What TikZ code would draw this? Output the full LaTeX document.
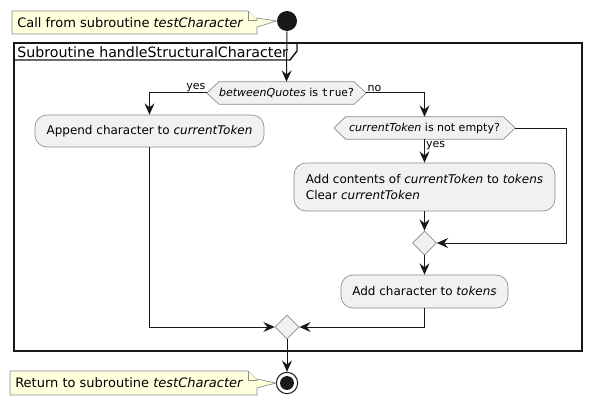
\documentclass[tikz,border=0pt]{standalone}
\usepackage{fontspec}
\setmainfont{DejaVu Sans}
\setmonofont{DejaVu Sans Mono}
\usetikzlibrary{arrows.meta,shapes.geometric,backgrounds}
\definecolor{ln}{HTML}{181818}
\definecolor{bd}{HTML}{8A8A8A}
\definecolor{actfill}{HTML}{F1F1F1}
\definecolor{notefill}{HTML}{FEFFDD}
\begin{document}
\begin{tikzpicture}[x=0.75pt,y=-0.75pt,
  arr/.style={draw=ln, line width=0.75pt, -{Stealth[length=8.5pt,width=7.5pt,inset=3pt]}},
  act/.style={draw=bd, fill=actfill, rounded corners=9pt, line width=0.5pt, inner sep=0pt,
    font=\fontsize{9}{12}\selectfont},
  hexnode/.style={inner sep=0pt, minimum height=16.5pt, font=\fontsize{8.25}{10}\selectfont},
  hexfill/.style={draw=bd, fill=actfill, line width=0.5pt},
  merge/.style={diamond, draw=bd, fill=actfill, line width=0.5pt, minimum size=18pt, inner sep=0pt},
  notebox/.style={draw=bd, fill=notefill, line width=0.5pt},
  notetext/.style={anchor=west, inner sep=0pt, font=\fontsize{9.75}{12}\selectfont},
  lbl/.style={inner sep=1pt, font=\fontsize{8.25}{10}\selectfont},
  frametitle/.style={anchor=west, inner sep=0pt, font=\fontsize{10.65}{12}\selectfont}]
\useasboundingbox (0,0) rectangle (591,406);

% start and end
\node[circle, fill=ln, minimum size=15pt, inner sep=0pt] (start) at (287,21) {};
\node[circle, draw=ln, fill=white, line width=0.75pt, minimum size=16pt, inner sep=0pt] (end) at (287,383) {};
\fill[ln] (end.center) circle (5.2pt);

% notes
\draw[notebox] (12,11) -- (248,11) -- (257,20) -- (257,18) -- (start.west) -- (257,27) -- (257,34) -- (12,34) -- cycle;
\draw[notebox] (248,11) -- (248,20) -- (257,20);
\node[notetext] (n1) at (17,22.5) {Call from subroutine \textit{testCharacter}};

\draw[notebox] (10,371) -- (248,371) -- (257,380) -- (257,379) -- (end.west) -- (257,388) -- (257,395) -- (10,395) -- cycle;
\draw[notebox] (248,371) -- (248,380) -- (257,380);
\node[notetext] (n2) at (15,383) {Return to subroutine \textit{testCharacter}};

% frame
\draw[ln, line width=1.1pt] (14,43) rectangle (582,351);
\draw[ln, line width=1.1pt] (14,60) -- (290,60) -- (297,51) -- (297,43);
\node[frametitle] (ft) at (17,52) {Subroutine handleStructuralCharacter};

% decision 1
\node[hexnode, minimum width=119pt] (d1) at (286.5,93) {\textit{betweenQuotes} is \texttt{true}?};
% decision 2
\node[hexnode, minimum width=135.75pt] (d2) at (424.5,128) {\textit{currentToken} is not empty?};
\begin{scope}[on background layer]
  \foreach \n in {d1,d2}{
    \draw[hexfill] (\n.west) -- ([xshift=9pt]\n.north west) -- ([xshift=-9pt]\n.north east)
      -- (\n.east) -- ([xshift=-9pt]\n.south east) -- ([xshift=9pt]\n.south west) -- cycle;
  }
\end{scope}

% actions
\node[act, minimum width=171.75pt, minimum height=24pt] (b1) at (149.5,131) {Append character to \textit{currentToken}};
\node[act, minimum width=195.75pt, minimum height=36pt, align=left] (b2) at (424.5,187)
  {Add contents of \textit{currentToken} to \textit{tokens}\\Clear \textit{currentToken}};
\node[act, minimum width=125.25pt, minimum height=24.75pt] (b3) at (424.5,291.5) {Add character to \textit{tokens}};

% merges
\node[merge] (m2) at (424.5,243) {};
\node[merge] (m1) at (287,327) {};

\coordinate (c1) at (566,128);

% edges
\draw[arr] (start) -- (d1.north);
\draw[arr] (d1.west) -| (b1.north);
\node[lbl, anchor=south east] at (d1.west) {yes};
\draw[arr] (d1.east) -| (d2.north);
\node[lbl, anchor=south west] at (d1.east) {no};
\draw[arr] (d2.south) -- (b2.north);
\node[lbl, anchor=north west] at (d2.south) {yes};
\draw[arr] (d2.east) -- (c1) |- (m2.east);
\draw[arr] (b2.south) -- (m2.north);
\draw[arr] (m2.south) -- (b3.north);
\draw[arr] (b1.south) |- (m1.west);
\draw[arr] (b3.south) |- (m1.east);
\draw[arr] (m1.south) -- (end.north);
\end{tikzpicture}
\end{document}
